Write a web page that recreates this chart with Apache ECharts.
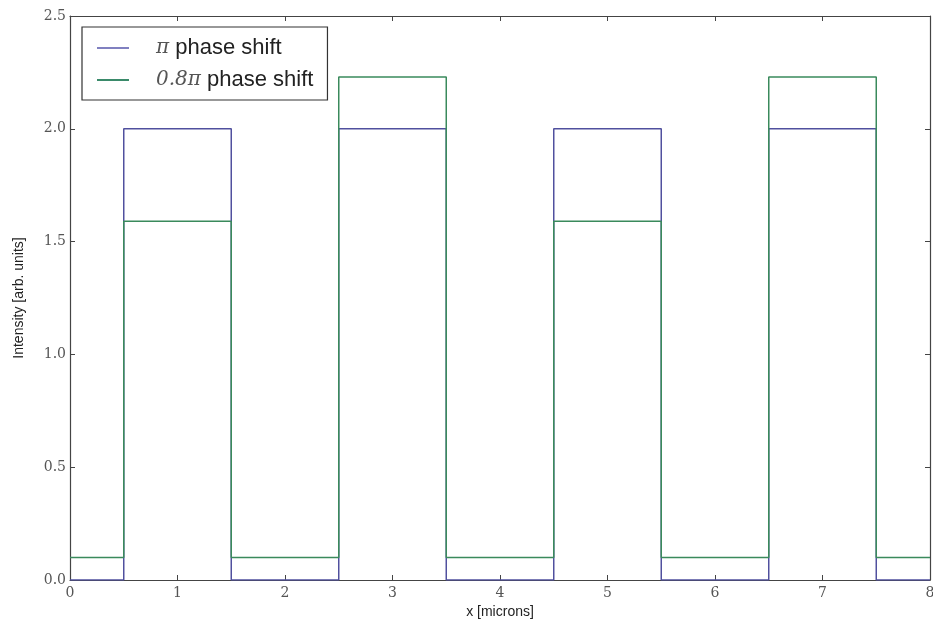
<!DOCTYPE html>
<html>
<head>
<meta charset="utf-8">
<script src="https://cdn.jsdelivr.net/npm/echarts@6/dist/echarts.min.js"></script>
<style>html,body{margin:0;padding:0;background:#fff;overflow:hidden;}#c{width:933px;height:627px;}</style>
</head>
<body>
<div id="c"></div>
<script>
// Segment edges along x (microns)
const edges = [0, 0.5, 1.5, 2.5, 3.5, 4.5, 5.5, 6.5, 7.5, 8];
// Intensity per segment
const piShift = [0, 2.0, 0, 2.0, 0, 2.0, 0, 2.0, 0];
const pi08Shift = [0.1, 1.59, 0.1, 2.23, 0.1, 1.59, 0.1, 2.23, 0.1];
const xTicks = [0, 1, 2, 3, 4, 5, 6, 7, 8];
const yTicks = [0.0, 0.5, 1.0, 1.5, 2.0, 2.5];
const seriesNames = ['π phase shift', '0.8π phase shift'];

function stepPoints(vals) {
  const pts = [];
  for (let i = 0; i < vals.length; i++) {
    pts.push([edges[i], vals[i]]);
    pts.push([edges[i + 1], vals[i]]);
  }
  return pts;
}

const serif = 'DejaVu Serif';
const sans = 'Liberation Sans';
const chart = echarts.init(document.getElementById('c'));
const axisLine = { show: true, onZero: false, lineStyle: { color: '#444', width: 1.2 } };
const tick = { show: true, inside: true, length: 5, lineStyle: { color: '#444' } };
chart.setOption({
  animation: false,
  grid: { left: 70, width: 860, top: 16, height: 564, containLabel: false, outerBoundsMode: 'none' },
  legend: {
    orient: 'vertical',
    left: 82, top: 27,
    padding: [10, 14, 9, 15],
    itemGap: 10,
    itemWidth: 32, itemHeight: 2,
    icon: 'rect',
    borderColor: '#333', borderWidth: 1.2,
    backgroundColor: '#fff',
    data: seriesNames,
    formatter: function (n) {
      return n === seriesNames[0] ? '{m|π} phase shift' : '{m|0.8π} phase shift';
    },
    textStyle: {
      fontFamily: sans, fontSize: 22, color: '#222', padding: [0, 0, 0, 22],
      rich: { m: { fontFamily: serif, fontStyle: 'italic', fontSize: 20, color: '#555' } }
    }
  },
  xAxis: [{
    type: 'value', min: 0, max: 8, interval: 1, position: 'bottom',
    name: 'x [microns]', nameLocation: 'middle', nameGap: 19,
    nameTextStyle: { fontFamily: sans, fontSize: 14, color: '#222' },
    axisLine: axisLine, axisTick: tick,
    axisLabel: { fontFamily: serif, fontSize: 14, color: '#555', margin: 6 },
    splitLine: { show: false }
  }, {
    type: 'value', min: 0, max: 8, interval: 1, position: 'top',
    axisLine: axisLine, axisTick: tick,
    axisLabel: { show: false }, splitLine: { show: false }
  }],
  yAxis: [{
    type: 'value', min: 0, max: 2.5, interval: 0.5, position: 'left',
    name: 'Intensity [arb. units]', nameLocation: 'middle', nameGap: 44,
    nameTextStyle: { fontFamily: sans, fontSize: 14, color: '#222' },
    axisLine: axisLine, axisTick: tick,
    axisLabel: { fontFamily: serif, fontSize: 14, color: '#555', margin: 4,
      formatter: v => v.toFixed(1) },
    splitLine: { show: false }
  }, {
    type: 'value', min: 0, max: 2.5, interval: 0.5, position: 'right',
    axisLine: axisLine, axisTick: tick,
    axisLabel: { show: false }, splitLine: { show: false }
  }],
  series: [{
    name: seriesNames[0], type: 'line', showSymbol: false, symbol: 'none',
    data: stepPoints(piShift),
    lineStyle: { color: '#50509e', width: 1.5 }, itemStyle: { color: '#8080c0' },
    z: 2
  }, {
    name: seriesNames[1], type: 'line', showSymbol: false, symbol: 'none',
    data: stepPoints(pi08Shift),
    lineStyle: { color: '#3a8a5c', width: 1.5 }, itemStyle: { color: '#3a8a6a' },
    z: 3
  }]
});
</script>
</body>
</html>
